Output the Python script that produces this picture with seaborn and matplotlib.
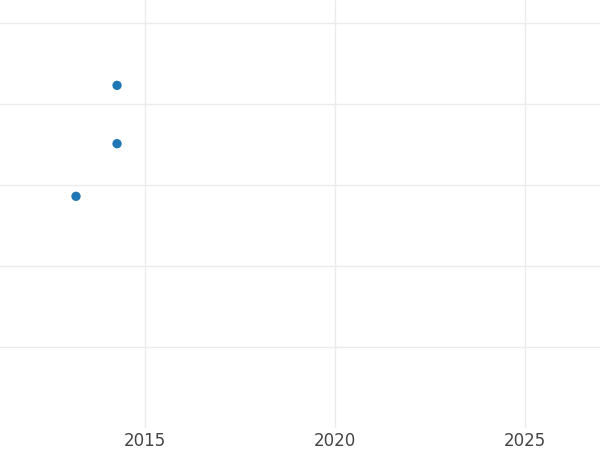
import matplotlib
matplotlib.use("Agg")
import matplotlib.pyplot as plt
import seaborn as sns
import pandas as pd

# data (years as decimals, y in arbitrary units)
years = [2014.26, 2014.26, 2013.18]
values = [42.3, 35.1, 28.6]
x_ticks = [2015, 2020, 2025]
y_ticks = [10, 20, 30, 40, 50]

df = pd.DataFrame({"year": years, "value": values})

sns.set_theme(style="whitegrid")
plt.rcParams["font.family"] = ["DejaVu Sans"]

fig = plt.figure(figsize=(6, 4.5), dpi=100)
ax = fig.add_axes([0, 0.049, 1, 0.951])

sns.scatterplot(data=df, x="year", y="value", color="#1f77b4", s=45,
                edgecolor="none", ax=ax)

ax.set_xlim(2011.18, 2026.97)
ax.set_ylim(0, 52.84)
ax.set_xticks(x_ticks)
ax.set_yticks(y_ticks)
ax.set_yticklabels([])
ax.set_xlabel("")
ax.set_ylabel("")
ax.grid(True, color="#ebebeb", linewidth=1.0)
for s in ax.spines.values():
    s.set_visible(False)
ax.tick_params(axis="both", length=0)
ax.tick_params(axis="x", labelsize=12, labelcolor="#444444", pad=3)

fig.savefig("out.png", dpi=100)
